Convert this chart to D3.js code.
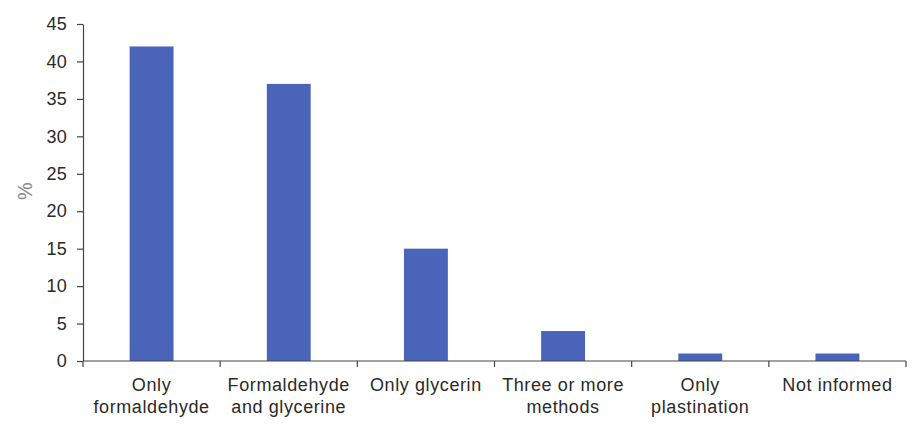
<!DOCTYPE html>
<html><head><meta charset="utf-8">
<script src="https://cdn.jsdelivr.net/npm/d3@7"></script>
<style>
html,body{margin:0;padding:0;background:#fff;}
svg{display:block;font-family:"Liberation Sans",Arial,sans-serif;}
</style></head>
<body><div id="chart"></div>
<script>
const categories = ["Only\nformaldehyde", "Formaldehyde\nand glycerine", "Only glycerin", "Three or more\nmethods", "Only\nplastination", "Not informed"];
const values = [42, 37, 15, 4, 1, 1];
const yTicks = [0, 5, 10, 15, 20, 25, 30, 35, 40, 45];
const yLabel = "%";

const W = 921, H = 432;
const m = {left: 83, right: 15, top: 24, bottom: 71};
const svg = d3.select("#chart").append("svg").attr("width", W).attr("height", H);

const x = d3.scaleBand().domain(categories).range([m.left, W - m.right]).padding(0);
const y = d3.scaleLinear().domain([0, 45]).range([H - m.bottom, m.top]);
const barW = x.bandwidth() * 0.32;

svg.append("g").selectAll("rect").data(values).join("rect")
  .attr("x", (d, i) => x(categories[i]) + x.bandwidth() / 2 - barW / 2)
  .attr("y", d => y(d))
  .attr("width", barW)
  .attr("height", d => y(0) - y(d))
  .attr("fill", "#4964B9");

// Y axis
const yAxis = svg.append("g").attr("transform", `translate(${m.left},0)`)
  .call(d3.axisLeft(y).tickValues(yTicks).tickSize(6).tickPadding(10).tickSizeOuter(0));
yAxis.select(".domain").attr("stroke", "#444").attr("stroke-width", 1.2);
yAxis.selectAll(".tick line").attr("stroke", "#444").attr("stroke-width", 1.2);
yAxis.selectAll(".tick text").attr("font-size", 18).attr("fill", "#2a2a2a")
  .attr("letter-spacing", "0.3px").attr("font-family", "Liberation Sans, Arial, sans-serif");

// X axis
const xAxisG = svg.append("g").attr("transform", `translate(0,${y(0)})`);
xAxisG.append("line").attr("x1", m.left).attr("x2", W - m.right).attr("stroke", "#444").attr("stroke-width", 1.2);
const bounds = categories.map(c => x(c)).concat([x(categories[categories.length - 1]) + x.bandwidth()]);
xAxisG.selectAll("line.tk").data(bounds).join("line").attr("class", "tk")
  .attr("x1", d => d).attr("x2", d => d).attr("y1", 0).attr("y2", 6)
  .attr("stroke", "#444").attr("stroke-width", 1.2);

const lbl = xAxisG.selectAll("text").data(categories).join("text")
  .attr("x", d => x(d) + x.bandwidth() / 2)
  .attr("y", 30)
  .attr("text-anchor", "middle")
  .attr("font-size", 18)
  .attr("letter-spacing", "0.6px")
  .attr("fill", "#2a2a2a");
lbl.each(function(d) {
  const t = d3.select(this);
  d.split("\n").forEach((s, i) => {
    t.append("tspan").attr("x", x(d) + x.bandwidth() / 2).attr("dy", i === 0 ? 0 : 22).text(s);
  });
});

// Y label
svg.append("text")
  .attr("transform", `translate(32,191) rotate(-90)`)
  .attr("text-anchor", "middle")
  .attr("font-size", 20)
  .attr("fill", "#888")
  .text(yLabel);
</script>
</body></html>
